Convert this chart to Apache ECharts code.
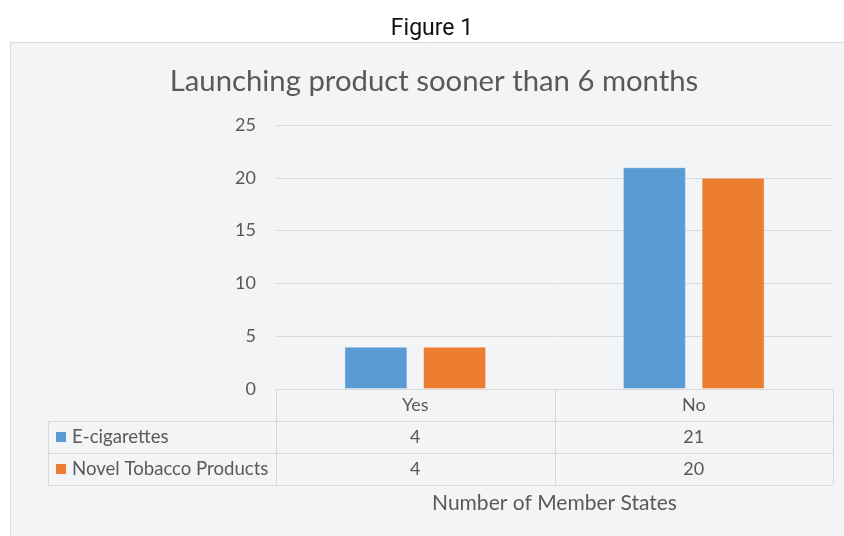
<!DOCTYPE html>
<html>
<head>
<meta charset="utf-8">
<script src="https://cdn.jsdelivr.net/npm/echarts@6/dist/echarts.min.js"></script>
<style>
  html, body { margin: 0; padding: 0; background: #ffffff; }
  #chart { width: 844px; height: 536px; }
</style>
</head>
<body>
<div id="chart"></div>
<script>
// Survey answers per category
const categories = ['Yes', 'No'];
const seriesNames = ['E-cigarettes', 'Novel Tobacco Products'];
const eCigarettes = [4, 21];
const novelTobacco = [4, 20];
const yTicks = [0, 5, 10, 15, 20, 25];

const figureLabel = 'Figure 1';
const chartTitle = 'Launching product sooner than 6 months';
const axisTitle = 'Number of Member States';

const seriesColors = ['#5b9bd5', '#ed7d31'];
const textColor = '#595959';
const lineColor = '#d9d9d9';
const font = 'Lato, "Open Sans", sans-serif';
const labelSize = 18;

const chart = echarts.init(document.getElementById('chart'), null, { renderer: 'canvas' });

const gridLeft = 276, gridRight = 11, gridTop = 125, gridBottom = 147;

const option = {
  backgroundColor: '#ffffff',
  animation: false,
  textStyle: { fontFamily: font },
  grid: { left: gridLeft, right: gridRight, top: gridTop, bottom: gridBottom, containLabel: false },
  xAxis: {
    type: 'category',
    data: categories,
    axisLine: { show: true, lineStyle: { color: lineColor, width: 1 } },
    axisTick: { show: false },
    axisLabel: { color: textColor, fontSize: labelSize, fontFamily: font, margin: 7 },
    splitLine: { show: false }
  },
  yAxis: {
    type: 'value',
    min: yTicks[0],
    max: yTicks[yTicks.length - 1],
    interval: yTicks[1] - yTicks[0],
    axisLine: { show: false },
    axisTick: { show: false },
    axisLabel: { color: textColor, fontSize: labelSize, fontFamily: font, margin: 20 },
    splitLine: { lineStyle: { color: lineColor, width: 1 } }
  },
  series: [
    {
      name: seriesNames[0],
      type: 'bar',
      data: eCigarettes,
      barWidth: '22.6%',
      barGap: '25%',
      itemStyle: { color: seriesColors[0], borderColor: 'rgba(255,255,255,0.35)', borderWidth: 1 }
    },
    {
      name: seriesNames[1],
      type: 'bar',
      data: novelTobacco,
      barWidth: '22.6%',
      barGap: '25%',
      itemStyle: { color: seriesColors[1], borderColor: 'rgba(255,255,255,0.35)', borderWidth: 1 }
    }
  ]
};

chart.setOption(option);

// Frame, headings and the data table under the plot, aligned to the category axis
function buildDecor() {
  const W = 844, H = 536;
  const x0 = gridLeft, x1 = W - gridRight;
  const y0 = H - gridBottom;
  const rowH = 32;
  const tableLeft = 48;
  const rows = [eCigarettes, novelTobacco];
  const nRows = rows.length + 1; // header row holds the category labels
  const yEnd = y0 + nRows * rowH;
  const colEdges = [x0];
  categories.forEach((c, i) => colEdges.push(x0 + (x1 - x0) * (i + 1) / categories.length));
  const els = [];

  // Frame panel behind the chart
  els.push({
    type: 'rect', z: -10, silent: true,
    shape: { x: 10.5, y: 42.5, width: 850, height: 520 },
    style: { fill: '#f3f4f6', stroke: '#d9d9d9', lineWidth: 1 }
  });

  // Headings
  els.push({
    type: 'text', silent: true, z: 6,
    x: 432, y: 29.5,
    style: { text: figureLabel, fill: '#111111', font: '23px Roboto, sans-serif', verticalAlign: 'middle', align: 'center' }
  });
  els.push({
    type: 'text', silent: true, z: 6,
    x: 434, y: 81.5,
    style: { text: chartTitle, fill: textColor, font: '29.3px ' + font, verticalAlign: 'middle', align: 'center' }
  });

  const line = (xa, ya, xb, yb) => els.push({
    type: 'line', silent: true, z: 5,
    shape: { x1: xa, y1: ya, x2: xb, y2: yb },
    style: { stroke: lineColor, lineWidth: 1 }
  });

  for (let r = 1; r <= rows.length; r++) {
    const y = Math.round(y0 + r * rowH) + 0.5;
    line(tableLeft, y, x1, y);
  }
  line(tableLeft, yEnd + 0.5, x1, yEnd + 0.5);
  colEdges.forEach(x => line(Math.round(x) + 0.5, y0, Math.round(x) + 0.5, yEnd));
  line(tableLeft + 0.5, y0 + rowH, tableLeft + 0.5, yEnd);

  rows.forEach((vals, r) => {
    const cy = y0 + rowH * (r + 1.5);
    els.push({
      type: 'rect', silent: true, z: 6,
      shape: { x: 56, y: cy - 5, width: 10, height: 10 },
      style: { fill: seriesColors[r] }
    });
    els.push({
      type: 'text', silent: true, z: 6,
      x: 72, y: cy,
      style: { text: seriesNames[r], fill: textColor, font: '18.6px ' + font, verticalAlign: 'middle', align: 'left' }
    });
    vals.forEach((v, i) => {
      const cx = chart.convertToPixel({ xAxisIndex: 0 }, categories[i]);
      els.push({
        type: 'text', silent: true, z: 6,
        x: cx, y: cy,
        style: { text: String(v), fill: textColor, font: labelSize + 'px ' + font, verticalAlign: 'middle', align: 'center' }
      });
    });
  });

  // Axis title under the table
  els.push({
    type: 'text', silent: true, z: 6,
    x: (x0 + x1) / 2, y: yEnd + 18,
    style: { text: axisTitle, fill: textColor, font: '21px ' + font, verticalAlign: 'middle', align: 'center' }
  });
  return els;
}

chart.setOption({ graphic: { elements: buildDecor() } });
</script>
</body>
</html>
